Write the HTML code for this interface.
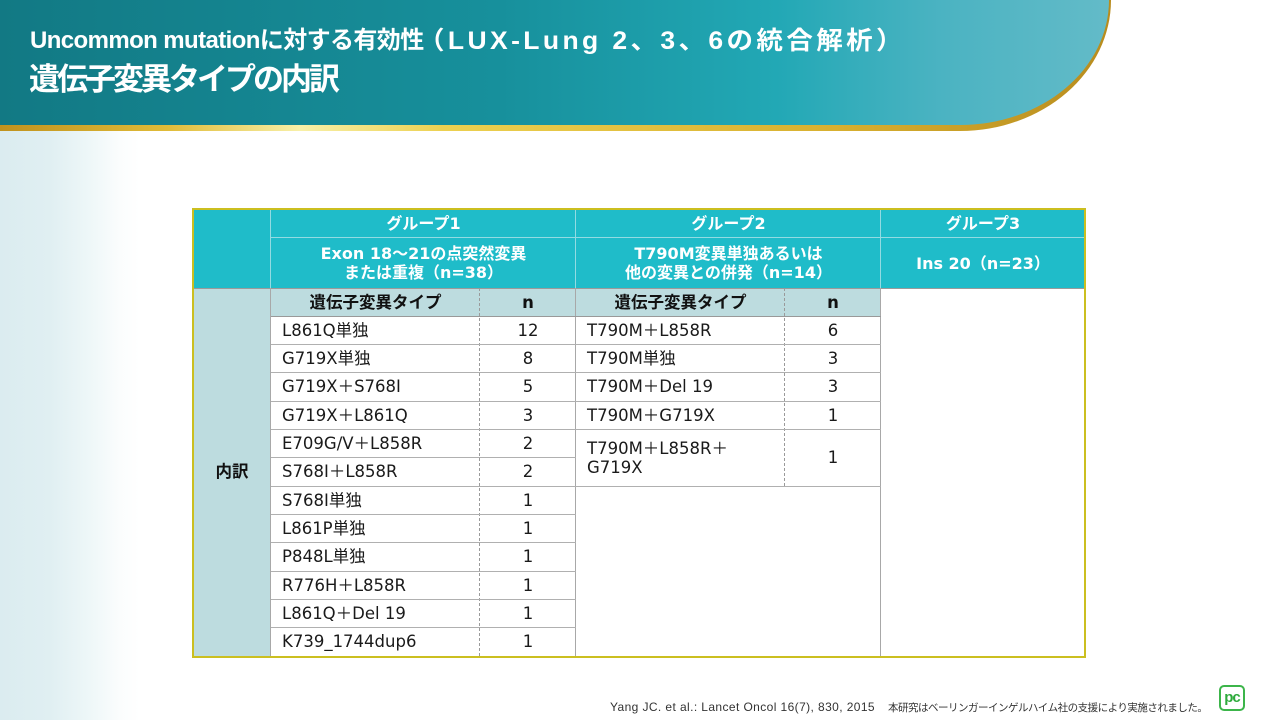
<!DOCTYPE html>
<html lang="ja">
<head>
<meta charset="utf-8">
<style>
  html,body{margin:0;padding:0;}
  body{width:1280px;height:720px;position:relative;overflow:hidden;background:#fff;
       font-family:"DejaVu Sans","Noto Sans CJK JP",sans-serif;}
  .abs{position:absolute;}
  .bgleft{position:absolute;left:0;top:128px;width:260px;height:592px;
          background:linear-gradient(to right,#dbecf0 0px,#e0eff2 50px,#eef7f8 90px,#fbfdfd 120px,#ffffff 140px);}
  .title1{position:absolute;left:30px;top:26px;color:#fff;font-weight:bold;
          font-family:"Liberation Sans","Noto Sans CJK JP",sans-serif;font-size:24px;line-height:30px;white-space:nowrap;letter-spacing:-0.6px;}
  .title1b{position:absolute;left:418px;top:26px;color:#fff;font-weight:bold;
          font-family:"Liberation Sans","Noto Sans CJK JP",sans-serif;font-size:25px;line-height:30px;white-space:nowrap;letter-spacing:3.2px;
          transform:scaleX(1.06);transform-origin:0 0;}
  .title2{position:absolute;left:29px;top:60px;color:#fff;font-weight:bold;
          font-family:"Liberation Sans","Noto Sans CJK JP",sans-serif;font-size:31px;line-height:40px;white-space:nowrap;letter-spacing:-3px;}
  .fill{position:absolute;}
  .hl{position:absolute;height:1px;}
  .vl{position:absolute;width:1px;}
  .c{position:absolute;display:flex;align-items:center;font-size:16.5px;color:#1a1a1a;white-space:nowrap;line-height:19px;}
  .l{justify-content:flex-start;padding-left:11px;box-sizing:border-box;}
  .m{justify-content:center;text-align:center;}
  .h{color:#fff;font-weight:bold;font-size:16px;}
  .b{font-weight:bold;color:#111;}
  .foot{position:absolute;left:610px;top:700px;font-size:12px;color:#333;white-space:nowrap;letter-spacing:0.4px;
        font-family:"Liberation Sans","Noto Sans CJK JP",sans-serif;}
  .foot2{position:absolute;left:888px;top:700px;font-size:10.5px;color:#333;white-space:nowrap;letter-spacing:-0.5px;
        font-family:"Liberation Sans","Noto Sans CJK JP",sans-serif;line-height:16px;}
</style>
</head>
<body>
<div class="bgleft"></div>

<!-- header band -->
<svg class="abs" style="left:0;top:0" width="1280" height="140" viewBox="0 0 1280 140">
  <defs>
    <linearGradient id="tg" x1="0" y1="0" x2="1" y2="0">
      <stop offset="0" stop-color="#127984"/>
      <stop offset="0.45" stop-color="#17909c"/>
      <stop offset="0.7" stop-color="#22a8b5"/>
      <stop offset="0.85" stop-color="#4bb3c2"/>
      <stop offset="1" stop-color="#63bbc8"/>
    </linearGradient>
    <linearGradient id="gg" x1="0" y1="0" x2="1" y2="0">
      <stop offset="0" stop-color="#c0921e"/>
      <stop offset="0.15" stop-color="#e0bb38"/>
      <stop offset="0.27" stop-color="#f8f0a8"/>
      <stop offset="0.4" stop-color="#ecd050"/>
      <stop offset="0.75" stop-color="#d8b030"/>
      <stop offset="1" stop-color="#b88c1e"/>
    </linearGradient>
  </defs>
  <path d="M0,0 H1111 A151,131 0 0 1 960,131 H0 Z" fill="url(#gg)"/>
  <path d="M0,0 H1109 A149,125 0 0 1 960,125 H0 Z" fill="url(#tg)"/>
</svg>
<div class="title1">Uncommon mutationに対する有効性</div>
<div class="title1b">（LUX-Lung 2、3、6の統合解析）</div>
<div class="title2">遺伝子変異タイプの内訳</div>

<!-- table fills -->
<div class="fill" style="left:193px;top:209px;width:892px;height:79px;background:#1fbcc9;"></div>
<div class="fill" style="left:193px;top:288px;width:78px;height:368px;background:#bddcdf;"></div>
<div class="fill" style="left:271px;top:288px;width:610px;height:28px;background:#bddcdf;"></div>

<!-- header light lines -->
<div class="hl" style="left:271px;top:237px;width:814px;background:#93dbe2;"></div>
<div class="vl" style="left:270px;top:209px;height:79px;background:#93dbe2;"></div>
<div class="vl" style="left:575px;top:209px;height:79px;background:#93dbe2;"></div>
<div class="vl" style="left:880px;top:209px;height:79px;background:#93dbe2;"></div>

<!-- gray lines -->
<div class="hl" style="left:193px;top:288px;width:892px;background:#9a9a9a;"></div>
<div class="vl" style="left:270px;top:288px;height:368px;background:#a8a8a8;"></div>
<div class="vl" style="left:575px;top:288px;height:368px;background:#a8a8a8;"></div>
<div class="vl" style="left:880px;top:288px;height:368px;background:#a8a8a8;"></div>
<div class="vl" style="left:479px;top:288px;height:368px;border-left:1px dashed #9a9a9a;width:0;"></div>
<div class="vl" style="left:784px;top:288px;height:198px;border-left:1px dashed #9a9a9a;width:0;"></div>

<!-- group1 row lines -->
<div class="hl" style="left:271px;top:316px;width:305px;background:#999;"></div>
<div class="hl" style="left:271px;top:344px;width:305px;background:#b0b0b0;"></div>
<div class="hl" style="left:271px;top:372px;width:305px;background:#b0b0b0;"></div>
<div class="hl" style="left:271px;top:401px;width:305px;background:#b0b0b0;"></div>
<div class="hl" style="left:271px;top:429px;width:305px;background:#b0b0b0;"></div>
<div class="hl" style="left:271px;top:457px;width:305px;background:#b0b0b0;"></div>
<div class="hl" style="left:271px;top:486px;width:305px;background:#b0b0b0;"></div>
<div class="hl" style="left:271px;top:514px;width:305px;background:#b0b0b0;"></div>
<div class="hl" style="left:271px;top:542px;width:305px;background:#b0b0b0;"></div>
<div class="hl" style="left:271px;top:571px;width:305px;background:#b0b0b0;"></div>
<div class="hl" style="left:271px;top:599px;width:305px;background:#b0b0b0;"></div>
<div class="hl" style="left:271px;top:627px;width:305px;background:#b0b0b0;"></div>
<!-- group2 row lines -->
<div class="hl" style="left:576px;top:316px;width:305px;background:#999;"></div>
<div class="hl" style="left:576px;top:344px;width:305px;background:#b0b0b0;"></div>
<div class="hl" style="left:576px;top:372px;width:305px;background:#b0b0b0;"></div>
<div class="hl" style="left:576px;top:401px;width:305px;background:#b0b0b0;"></div>
<div class="hl" style="left:576px;top:429px;width:305px;background:#b0b0b0;"></div>
<div class="hl" style="left:576px;top:486px;width:305px;background:#b0b0b0;"></div>

<!-- outer border -->
<div class="abs" style="left:192px;top:208px;width:890px;height:446px;border:2px solid #cbbf20;"></div>

<!-- header text -->
<div class="c m h" style="left:271px;top:209px;width:305px;height:29px;">グループ1</div>
<div class="c m h" style="left:576px;top:209px;width:305px;height:29px;">グループ2</div>
<div class="c m h" style="left:881px;top:209px;width:204px;height:29px;">グループ3</div>
<div class="c m h" style="left:271px;top:238px;width:305px;height:50px;">Exon 18～21の点突然変異<br>または重複（n=38）</div>
<div class="c m h" style="left:576px;top:238px;width:305px;height:50px;">T790M変異単独あるいは<br>他の変異との併発（n=14）</div>
<div class="c m h" style="left:881px;top:238px;width:204px;height:50px;">Ins 20（n=23）</div>

<!-- subheaders -->
<div class="c m b" style="left:271px;top:288px;width:209px;height:28px;">遺伝子変異タイプ</div>
<div class="c m b" style="left:480px;top:288px;width:96px;height:28px;">n</div>
<div class="c m b" style="left:576px;top:288px;width:209px;height:28px;">遺伝子変異タイプ</div>
<div class="c m b" style="left:785px;top:288px;width:96px;height:28px;">n</div>
<div class="c m b" style="left:193px;top:457px;width:78px;height:28px;">内訳</div>

<!-- group1 data -->
<div class="c l" style="left:271px;top:316px;width:209px;height:28px;">L861Q単独</div>
<div class="c m" style="left:480px;top:316px;width:96px;height:28px;">12</div>
<div class="c l" style="left:271px;top:344px;width:209px;height:28px;">G719X単独</div>
<div class="c m" style="left:480px;top:344px;width:96px;height:28px;">8</div>
<div class="c l" style="left:271px;top:372px;width:209px;height:29px;">G719X＋S768I</div>
<div class="c m" style="left:480px;top:372px;width:96px;height:29px;">5</div>
<div class="c l" style="left:271px;top:401px;width:209px;height:28px;">G719X＋L861Q</div>
<div class="c m" style="left:480px;top:401px;width:96px;height:28px;">3</div>
<div class="c l" style="left:271px;top:429px;width:209px;height:28px;">E709G/V＋L858R</div>
<div class="c m" style="left:480px;top:429px;width:96px;height:28px;">2</div>
<div class="c l" style="left:271px;top:457px;width:209px;height:29px;">S768I＋L858R</div>
<div class="c m" style="left:480px;top:457px;width:96px;height:29px;">2</div>
<div class="c l" style="left:271px;top:486px;width:209px;height:28px;">S768I単独</div>
<div class="c m" style="left:480px;top:486px;width:96px;height:28px;">1</div>
<div class="c l" style="left:271px;top:514px;width:209px;height:28px;">L861P単独</div>
<div class="c m" style="left:480px;top:514px;width:96px;height:28px;">1</div>
<div class="c l" style="left:271px;top:542px;width:209px;height:29px;">P848L単独</div>
<div class="c m" style="left:480px;top:542px;width:96px;height:29px;">1</div>
<div class="c l" style="left:271px;top:571px;width:209px;height:28px;">R776H＋L858R</div>
<div class="c m" style="left:480px;top:571px;width:96px;height:28px;">1</div>
<div class="c l" style="left:271px;top:599px;width:209px;height:28px;">L861Q＋Del 19</div>
<div class="c m" style="left:480px;top:599px;width:96px;height:28px;">1</div>
<div class="c l" style="left:271px;top:627px;width:209px;height:29px;">K739_1744dup6</div>
<div class="c m" style="left:480px;top:627px;width:96px;height:29px;">1</div>

<!-- group2 data -->
<div class="c l" style="left:576px;top:316px;width:209px;height:28px;">T790M＋L858R</div>
<div class="c m" style="left:785px;top:316px;width:96px;height:28px;">6</div>
<div class="c l" style="left:576px;top:344px;width:209px;height:28px;">T790M単独</div>
<div class="c m" style="left:785px;top:344px;width:96px;height:28px;">3</div>
<div class="c l" style="left:576px;top:372px;width:209px;height:29px;">T790M＋Del 19</div>
<div class="c m" style="left:785px;top:372px;width:96px;height:29px;">3</div>
<div class="c l" style="left:576px;top:401px;width:209px;height:28px;">T790M＋G719X</div>
<div class="c m" style="left:785px;top:401px;width:96px;height:28px;">1</div>
<div class="c l" style="left:576px;top:429px;width:209px;height:57px;">T790M＋L858R＋<br>G719X</div>
<div class="c m" style="left:785px;top:429px;width:96px;height:57px;">1</div>

<!-- footnote -->
<div class="foot">Yang JC. et al.: Lancet Oncol 16(7), 830, 2015</div>
<div class="foot2">本研究はベーリンガーインゲルハイム社の支援により実施されました。</div>

<!-- logo -->
<div class="abs" style="left:1219px;top:685px;width:22px;height:22px;border:2px solid #3cb54a;border-radius:5px;background:#fff;"></div>
<div class="abs" style="left:1219px;top:685px;width:26px;height:24px;display:flex;align-items:center;justify-content:center;color:#2eaa3c;font-weight:bold;font-family:'Liberation Sans',sans-serif;font-size:15px;letter-spacing:-1px;">pc</div>
</body>
</html>
